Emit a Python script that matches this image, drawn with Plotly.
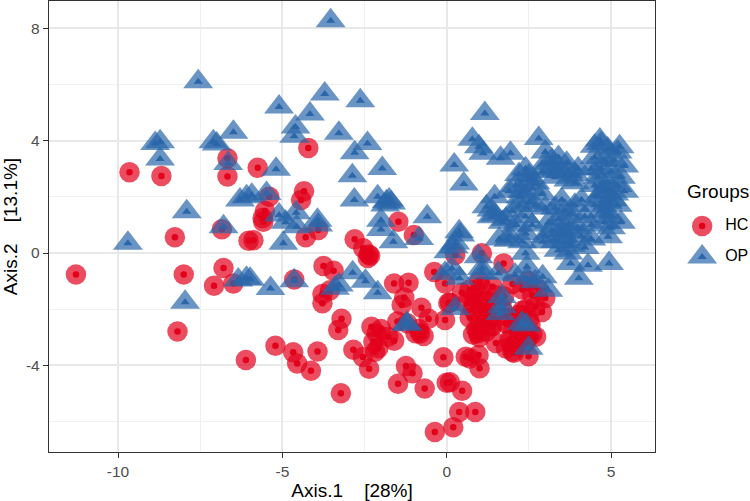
import plotly.graph_objects as go

hc_x = [-11.28,-8.27,-8.0,-8.19,-6.79,-7.08,-6.49,-6.84,-6.03,-6.11,-9.65,-8.68,-6.67,-6.67,-5.75,-4.21,-5.4,-4.34,-4.43,-5.53,-5.58,-5.6,-1.47,-3.91,-1.0,
        -5.88,-4.29,-2.8,-2.54,-2.33,-2.4,-2.37,-3.75,-3.44,-4.64,-3.55,-3.78,-3.78,-3.2,-3.3,-5.21,-4.67,-3.93,-4.55,-4.13,-3.22,-2.84,-2.55,-2.36,-2.29,-2.13,-2.0,-2.23,-2.08,-2.18,-1.6,-1.78,
        -1.6,-1.16,-1.29,-1.37,-0.77,-0.55,-1.5,-1.2,-0.81,-0.7,-0.85,-0.95,-0.38,-0.05,0.05,-0.05,-0.1,-1.24,-1.04,-1.48,-0.67,0.0,-0.36,0.2,0.38,0.87,0.1,0.47,
        0.46,0.1,0.26,1.07,1.73,0.58,0.71,0.97,1.0,2.49,2.72,
        1.0,1.4,0.7,0.9,1.2,0.6,0.8,1.1,0.7,1.0,1.3,0.9,1.2,1.0,1.4,0.8,1.5,1.7,2.0,2.3,2.5,2.6,2.8,3.0,2.7,2.4,2.9,2.5,2.2,2.0,1.9,1.8,2.1,2.4,2.6,2.0,1.9,2.2,1.5,1.8,
        0.85,1.25,0.95,1.35,1.05,1.15,1.75,2.15,2.55,2.45,2.05,2.2,2.3,2.35]
hc_y = [-0.76,0.56,-0.76,-2.79,-0.53,-1.16,-1.08,0.85,0.44,-3.81,2.88,2.74,3.37,2.72,3.04,3.74,2.0,2.2,1.89,1.5,1.11,1.25,1.11,0.82,0.64,
        0.46,0.56,0.49,0.17,-0.1,-0.18,-0.05,-0.46,-0.63,-0.94,-1.32,-1.46,-1.79,-2.34,-2.74,-3.3,-3.53,-3.5,-3.93,-4.19,-4.99,-3.44,-3.7,-4.12,-2.62,-2.86,-2.7,-3.16,-3.39,-3.51,-3.12,-2.98,
        -1.08,-1.06,-1.58,-1.85,-1.95,-2.34,-2.44,-2.5,-2.86,-2.95,-2.7,-2.85,-0.67,-1.08,-1.78,-2.38,-3.71,-4.02,-4.28,-4.65,-4.82,-4.62,-6.37,-6.2,-5.66,-5.66,-4.6,-4.9,
        -1.41,-1.77,-0.07,-0.01,-0.37,-3.69,-3.75,-3.63,-4.1,-3.67,-2.98,
        -1.0,-1.2,-1.3,-1.6,-1.7,-1.8,-2.0,-2.1,-2.3,-2.4,-2.3,-2.7,-2.8,-3.0,-2.6,-2.9,-1.5,-2.0,-1.1,-1.3,-1.0,-1.5,-1.3,-1.6,-1.9,-2.0,-2.1,-2.4,-2.6,-2.8,-3.1,-3.4,-3.3,-3.2,-2.9,-3.5,-2.3,-2.2,-3.2,-2.5,
        -1.55,-2.05,-2.85,-2.6,-1.2,-1.85,-1.55,-2.35,-2.55,-3.05,-3.55,-2.95,-2.05,-2.7]

op_x = [-7.56,-6.49,-8.87,-8.72,-8.72,-7.1,-7.0,-6.65,-7.91,-6.29,-6.09,-6.79,-9.7,-7.96,-6.34,-6.09,
        -3.53,-3.71,-5.1,-2.63,-4.16,-4.6,-4.64,-3.28,-2.41,-2.8,-1.96,-2.87,-5.19,-2.81,-5.93,-5.48,-2.1,-1.83,-1.75,-1.69,-1.87,-0.59,-5.1,-4.58,-4.9,-4.56,-3.93,-2.0,0.23,
        -4.97,-3.91,-2.0,-1.62,-0.84,0.05,-4.64,-5.98,-5.36,-2.86,-2.47,-3.28,-3.4,-2.1,-1.21,-1.21,-0.05,
        1.16,0.78,0.98,1.11,0.52,1.64,1.94,2.8,4.66,4.7,5.26,0.38,1.21,1.36,1.47,1.36,1.46,4.91,4.94,4.02,4.3,3.77,2.4,1.87,2.93,3.79,
        2.2,2.4,2.5,2.1,1.9,2.3,2.7,2.9,2.5,2.2,2.0,1.8,2.4,2.7,3.0,2.6,2.4,2.1,2.3,1.9,1.6,1.7,
        3.0,3.2,3.4,3.2,3.5,3.7,3.9,4.0,3.3,3.7,3.9,2.9,3.0,
        4.5,4.9,4.5,4.8,5.1,5.4,4.4,4.7,5.0,5.3,4.6,4.9,5.2,4.5,4.8,5.1,5.4,4.6,4.9,5.2,4.7,5.0,5.3,4.8,5.0,4.5,5.2,
        3.5,3.3,3.6,3.1,3.4,3.8,3.2,3.5,3.7,3.0,3.3,3.6,3.4,3.7,4.0,4.2,4.4,4.1,4.4,4.2,3.9,4.1,
        0.16,0.39,0.26,0.97,1.07,1.07,1.57,1.68,1.68,1.63,2.08,2.44,2.69,2.92,3.09,2.42,2.29,2.49,0.26,0.21,0.41,2.44,
        2.5,2.6,2.25,3.3,3.65,4.75,5.05,4.85,3.55,3.75]
op_y = [6.1,4.3,3.9,3.96,3.35,3.96,3.88,3.19,1.47,1.89,2.0,0.94,0.35,-1.75,-0.96,-0.9,
        8.27,5.66,5.2,5.42,4.95,4.49,4.16,4.26,3.9,3.57,3.01,2.75,2.98,1.89,2.06,2.12,2.0,1.83,1.89,1.78,1.71,1.29,1.35,1.43,1.1,0.94,1.17,1.17,3.13,
        0.35,1.0,0.84,0.4,0.52,0.05,-0.99,-0.93,-1.26,-0.7,-1.0,-1.14,-1.25,-1.41,-2.54,-2.5,-0.72,
        4.97,4.05,3.78,3.55,2.46,3.37,3.55,4.08,4.02,3.9,3.78,0.76,1.65,1.53,1.35,1.29,2.0,0.58,-0.37,-0.9,-0.43,-0.37,-0.01,0.46,0.4,0.28,
        2.8,3.0,2.6,2.4,2.2,2.2,2.5,2.1,1.8,1.7,1.5,1.2,1.3,1.7,1.6,1.0,0.7,1.0,0.4,0.6,0.5,1.1,
        3.6,3.3,3.4,3.0,2.9,2.9,2.8,3.0,2.7,2.6,2.5,2.9,3.2,
        3.8,3.7,3.4,3.3,3.3,3.1,3.0,3.0,2.9,2.7,2.7,2.5,2.4,2.4,2.2,2.1,2.2,2.0,1.8,1.7,1.5,1.3,1.1,1.1,0.9,1.7,3.6,
        1.9,1.6,1.5,1.1,1.2,1.4,0.8,0.8,1.0,0.6,0.4,0.4,0.1,0.0,0.9,1.3,1.0,0.6,0.5,0.2,1.7,1.9,
        -0.55,-0.9,-1.97,-0.13,-0.55,-0.7,-0.72,-1.55,-1.9,-2.15,-0.78,-0.9,-1.02,-0.84,-1.32,-2.56,-2.5,-3.39,0.36,0.22,0.64,-0.49,
        2.75,2.3,2.0,2.95,3.2,2.2,1.9,1.45,0.6,0.75]

x_ticks = [-10, -5, 0, 5]
x_tick_labels = ["-10", "-5", "0", "5"]
x_minor = [-7.5, -2.5, 2.5]
y_ticks = [-4, 0, 4, 8]
y_tick_labels = ["-4", "0", "4", "8"]
y_minor = [-6, -2, 2, 6]
groups = ["HC", "OP"]

RED, BLUE = "#E3001B", "#2A66AA"
FONT = "Liberation Sans"
OUT_ALPHA = 0.7
CIRC_OUT, CIRC_IN = 20.5, 6.5
TRI_OUT, TRI_IN = 26, 8

fig = go.Figure()
def layer(x, y, color, symbol, size, opacity, xa="x", ya="y"):
    fig.add_trace(go.Scatter(x=x, y=y, mode="markers", xaxis=xa, yaxis=ya, showlegend=False, hoverinfo="skip",
                             marker=dict(color=color, symbol=symbol, size=size, opacity=opacity, line=dict(width=0))))

layer(hc_x, hc_y, RED, "circle", CIRC_OUT, OUT_ALPHA)
layer(hc_x, hc_y, RED, "circle", CIRC_IN, 1)
layer(op_x, op_y, BLUE, "triangle-up", TRI_OUT, OUT_ALPHA)
layer(op_x, op_y, BLUE, "triangle-up", TRI_IN, 1)

# legend keys live on a small helper axis pair to the right of the panel
key_y = [1, 0]
layer([0], key_y[:1], RED, "circle", CIRC_OUT, OUT_ALPHA, "x2", "y2")
layer([0], key_y[:1], RED, "circle", CIRC_IN, 1, "x2", "y2")
layer([0], key_y[1:], BLUE, "triangle-up", TRI_OUT, OUT_ALPHA, "x2", "y2")
layer([0], key_y[1:], BLUE, "triangle-up", TRI_IN, 1, "x2", "y2")
fig.add_trace(go.Scatter(x=[0.62, 0.62], y=key_y, mode="text", text=groups, textposition="middle right",
                         textfont=dict(family=FONT, size=16, color="#000"), xaxis="x2", yaxis="y2",
                         showlegend=False, hoverinfo="skip"))

W = 750; L = 48.5; R = 655; T = 1; B = 452
plot_w = W - L
plot_h = B - T
def ydom(py):
    return (B - py) / plot_h
axis_common = dict(tickmode="array", ticks="outside", ticklen=5, tickwidth=1.3, tickcolor="#333333",
                   tickfont=dict(size=15.5, color="#4D4D4D"), showgrid=True, gridcolor="#E8E8E8", gridwidth=1.8,
                   zeroline=False, showline=True, mirror=True, linecolor="#333333", linewidth=1.4)
minor_common = dict(tickmode="array", showgrid=True, gridcolor="#F0F0F0", gridwidth=1, ticks="")
fig.update_layout(
    width=750, height=501, margin=dict(l=L, r=0, t=T, b=501 - B), autosize=False,
    paper_bgcolor="white", plot_bgcolor="white", showlegend=False,
    font=dict(family=FONT),
    xaxis=dict(domain=[0, (R - L) / plot_w], range=[-12.1, 6.34], tickvals=x_ticks, ticktext=x_tick_labels,
               minor=dict(tickvals=x_minor, **minor_common),
               title=dict(text="Axis.1\u00a0\u00a0\u00a0\u00a0[28%]", font=dict(size=19, color="#000"), standoff=4), **axis_common),
    yaxis=dict(domain=[0, 1], range=[-7.08, 8.97], tickvals=y_ticks, ticktext=y_tick_labels,
               minor=dict(tickvals=y_minor, **minor_common),
               title=dict(text="Axis.2\u00a0\u00a0\u00a0\u00a0[13.1%]", font=dict(size=19, color="#000"), standoff=6), **axis_common),
    # helper axes: key rows 1 and 0 fall on the legend rows
    xaxis2=dict(domain=[(665 - L) / plot_w, 1], range=[-1, 1.29], visible=False, fixedrange=True, anchor="y2"),
    yaxis2=dict(domain=[ydom(272.5), ydom(210.5)], anchor="x2", range=[-0.5, 1.5], visible=False, fixedrange=True),
    annotations=[dict(text="Groups", xref="paper", yref="paper", x=(685 - L) / plot_w, y=ydom(191),
                      xanchor="left", yanchor="middle", showarrow=False, font=dict(size=19, color="#000"))],
)
fig.write_html("out.html", config={"displayModeBar": False}, post_script="document.body.style.margin='0';")
